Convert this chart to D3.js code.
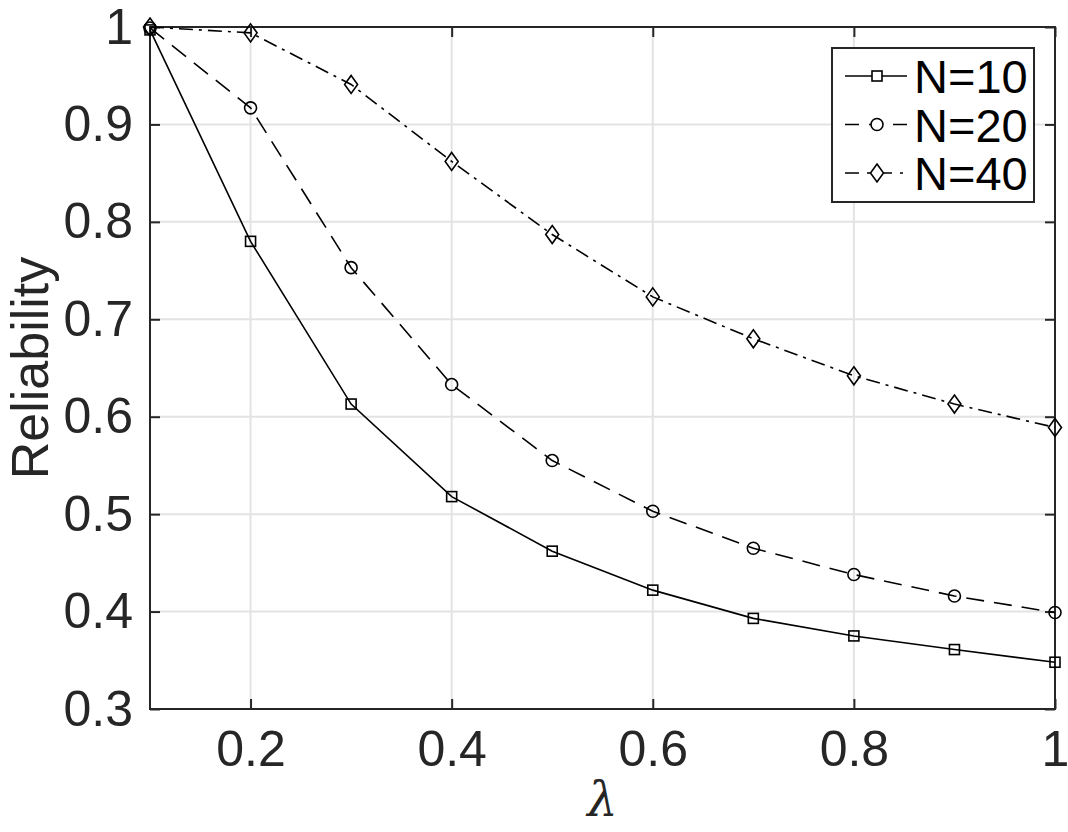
<!DOCTYPE html>
<html>
<head>
<meta charset="utf-8">
<script src="https://cdn.jsdelivr.net/npm/d3@7"></script>
<style>
  body { margin: 0; background: #fff; }
  svg { display: block; font-family: "Liberation Sans", Arial, sans-serif; }
</style>
</head>
<body>
<div id="chart"></div>
<script>
const lambdas = [0.1, 0.2, 0.3, 0.4, 0.5, 0.6, 0.7, 0.8, 0.9, 1.0];
const n10 = [0.997, 0.780, 0.613, 0.518, 0.462, 0.422, 0.393, 0.375, 0.361, 0.348];
const n20 = [0.999, 0.917, 0.753, 0.633, 0.555, 0.503, 0.465, 0.438, 0.416, 0.399];
const n40 = [1.000, 0.994, 0.941, 0.862, 0.787, 0.723, 0.680, 0.642, 0.613, 0.589];
const seriesNames = ['N=10', 'N=20', 'N=40'];
const xTicks = [0.2, 0.4, 0.6, 0.8, 1];
const yTicks = [0.3, 0.4, 0.5, 0.6, 0.7, 0.8, 0.9, 1];

const W = 1068, H = 832;
const margin = {top: 27, right: 13, bottom: 123, left: 150};
const width = W - margin.left - margin.right;
const height = H - margin.top - margin.bottom;
const ink = '#262626';

const x = d3.scaleLinear().domain([0.1, 1]).range([0, width]);
const y = d3.scaleLinear().domain([0.3, 1]).range([height, 0]);

const series = [
    {name: seriesNames[0], values: n10, dash: null, legendDash: null, marker: 'square'},
    {name: seriesNames[1], values: n20, dash: '18,10', legendDash: '14,10', marker: 'circle'},
    {name: seriesNames[2], values: n40, dash: '14,6,3,6', legendDash: '14,8,3,8', marker: 'diamond'}
];

const svg = d3.select('#chart').append('svg')
    .attr('width', W)
    .attr('height', H);

const g = svg.append('g')
    .attr('transform', 'translate(' + margin.left + ',' + margin.top + ')');

// grid
g.append('g').selectAll('line')
    .data(xTicks)
    .enter()
.append('line')
    .attr('x1', (d) => x(d)).attr('x2', (d) => x(d))
    .attr('y1', 0).attr('y2', height)
    .attr('stroke', '#e3e3e3').attr('stroke-width', 2);

g.append('g').selectAll('line')
    .data(yTicks)
    .enter()
.append('line')
    .attr('x1', 0).attr('x2', width)
    .attr('y1', (d) => y(d)).attr('y2', (d) => y(d))
    .attr('stroke', '#e3e3e3').attr('stroke-width', 2);

const fmt = (d) => d === 1 ? '1' : d3.format('.1f')(d);

const styleAxis = function styleAxis(sel, showText) {
    sel.select('.domain').remove();
    sel.selectAll('.tick line').attr('stroke', ink).attr('stroke-width', 2);
    sel.selectAll('.tick text')
        .attr('fill', ink)
        .style('font-size', '50px');
    if (!showText) sel.selectAll('.tick text').remove();
};

g.append('g')
    .attr('transform', 'translate(0,' + height + ')')
    .call(d3.axisBottom(x).tickValues(xTicks).tickFormat(fmt).tickSizeInner(-10).tickSizeOuter(0).tickPadding(21))
    .call((s) => styleAxis(s, true));

g.append('g')
    .call(d3.axisTop(x).tickValues(xTicks).tickSizeInner(-10).tickSizeOuter(0))
    .call((s) => styleAxis(s, false));

g.append('g')
    .call(d3.axisLeft(y).tickValues(yTicks).tickFormat(fmt).tickSizeInner(-10).tickSizeOuter(0).tickPadding(17))
    .call((s) => styleAxis(s, true));

g.append('g')
    .attr('transform', 'translate(' + width + ',0)')
    .call(d3.axisRight(y).tickValues(yTicks).tickSizeInner(-10).tickSizeOuter(0))
    .call((s) => styleAxis(s, false));

// box
g.append('rect')
    .attr('x', 0).attr('y', 0)
    .attr('width', width).attr('height', height)
    .attr('fill', 'none').attr('stroke', ink).attr('stroke-width', 2);

const line = d3.line()
    .x((d, i) => x(lambdas[i]))
    .y((d) => y(d));

const drawMarker = function drawMarker(sel, type, cx, cy) {
    if (type === 'square') {
        sel.append('rect')
            .attr('x', cx - 5).attr('y', cy - 5)
            .attr('width', 10).attr('height', 10);
    } else if (type === 'circle') {
        sel.append('circle')
            .attr('cx', cx).attr('cy', cy).attr('r', 6);
    } else {
        sel.append('path')
            .attr('d', 'M' + cx + ',' + (cy - 9) + 'L' + (cx + 6.5) + ',' + cy +
                'L' + cx + ',' + (cy + 9) + 'L' + (cx - 6.5) + ',' + cy + 'Z');
    }
};

const type = g.selectAll('.type')
    .data(series)
    .enter()
.append('g')
    .attr('class', 'type');

type.append('path')
    .attr('d', (d) => line(d.values))
    .attr('fill', 'none')
    .attr('stroke', '#000')
    .attr('stroke-width', 1.6)
    .attr('stroke-dasharray', (d) => d.dash);

type.each(function(d) {
    const mg = d3.select(this).append('g')
        .attr('fill', 'none').attr('stroke', '#000').attr('stroke-width', 1.6);
    d.values.forEach((v, i) => drawMarker(mg, d.marker, x(lambdas[i]), y(v)));
});

// legend
const legend = svg.append('g');
legend.append('rect')
    .attr('x', 832).attr('y', 48)
    .attr('width', 202).attr('height', 154)
    .attr('fill', '#fff').attr('stroke', ink).attr('stroke-width', 2);

series.forEach((d, i) => {
    const ly = 76 + i * 48.5;
    const row = legend.append('g');
    row.append('line')
        .attr('x1', 845).attr('x2', 907)
        .attr('y1', ly).attr('y2', ly)
        .attr('stroke', '#000').attr('stroke-width', 1.6)
        .attr('stroke-dasharray', d.legendDash);
    const mg = row.append('g')
        .attr('fill', '#fff').attr('stroke', '#000').attr('stroke-width', 1.6);
    drawMarker(mg, d.marker, 877, ly);
    row.append('text')
        .attr('x', 914).attr('y', ly + 17)
        .attr('fill', '#000')
        .style('font-size', '47px')
        .text(d.name);
});

// axis labels
svg.append('text')
    .attr('transform', 'translate(48,' + (margin.top + height / 2) + ') rotate(-90)')
    .attr('text-anchor', 'middle')
    .attr('fill', ink)
    .style('font-size', '52px')
    .text('Reliability');

svg.append('text')
    .attr('x', margin.left + width / 2)
    .attr('y', 816)
    .attr('text-anchor', 'middle')
    .attr('fill', ink)
    .style('font-size', '48px')
    .style('font-style', 'italic')
    .style('font-family', '"DejaVu Serif", "Liberation Serif", serif')
    .text('λ');
</script>
</body>
</html>
